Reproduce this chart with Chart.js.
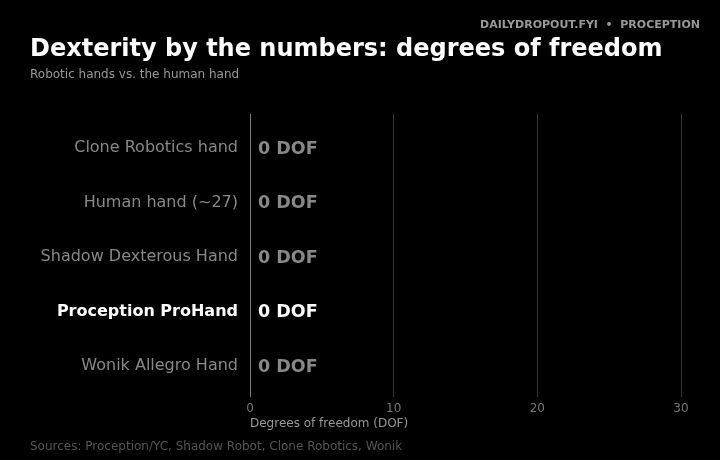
<!DOCTYPE html>
<html>
<head>
<meta charset="utf-8">
<script src="https://cdn.jsdelivr.net/npm/chart.js@4"></script>
<style>
  html, body { margin: 0; padding: 0; background: #000; }
  body { width: 720px; height: 460px; position: relative; overflow: hidden; font-family: "DejaVu Sans", sans-serif; }
  #wrap { position: absolute; left: 0; top: 0; width: 720px; height: 460px; }
  .txt { position: absolute; white-space: nowrap; }
  #brand { right: 20px; top: 18px; font-size: 11px; font-weight: bold; color: #999; }
  #title { left: 30px; top: 34px; font-size: 24px; font-weight: bold; color: #fff; }
  #subtitle { left: 30px; top: 67px; font-size: 12px; color: #999; }
  #sources { left: 30px; top: 439px; font-size: 12px; color: #555; }
</style>
</head>
<body>
<div id="wrap"><canvas id="chart" width="720" height="460"></canvas></div>
<div class="txt" id="brand">DAILYDROPOUT.FYI &nbsp;•&nbsp; PROCEPTION</div>
<div class="txt" id="title">Dexterity by the numbers: degrees of freedom</div>
<div class="txt" id="subtitle">Robotic hands vs. the human hand</div>
<div class="txt" id="sources">Sources: Proception/YC, Shadow Robot, Clone Robotics, Wonik</div>
<script>
const hands = ['Clone Robotics hand', 'Human hand (~27)', 'Shadow Dexterous Hand', 'Proception ProHand', 'Wonik Allegro Hand'];
const dof = [0, 0, 0, 0, 0];
const highlight = 'Proception ProHand';
const xTicks = [0, 10, 20, 30];

const isHi = i => hands[i] === highlight;
const gridColor = v => v === 0 ? '#777' : '#333';

// "N DOF" labels at the end of each bar
const valueLabels = {
  id: 'valueLabels',
  afterDatasetsDraw(chart) {
    const ctx = chart.ctx;
    const meta = chart.getDatasetMeta(0);
    ctx.save();
    ctx.font = 'bold 17.5px "DejaVu Sans"';
    ctx.textBaseline = 'middle';
    ctx.textAlign = 'left';
    meta.data.forEach((bar, i) => {
      ctx.fillStyle = isHi(i) ? '#fff' : '#888';
      ctx.fillText(dof[i] + ' DOF', bar.x + 8, bar.y + 1);
    });
    ctx.restore();
  }
};

// grid lines run a little above the first row
const gridTop = {
  id: 'gridTop',
  beforeDatasetsDraw(chart) {
    const ctx = chart.ctx;
    const x = chart.scales.x;
    const top = chart.chartArea.top;
    ctx.save();
    ctx.lineWidth = 1;
    xTicks.forEach(v => {
      const px = Math.round(x.getPixelForValue(v) - 0.5) + 0.5;
      ctx.strokeStyle = gridColor(v);
      ctx.beginPath();
      ctx.moveTo(px, top - 7);
      ctx.lineTo(px, top);
      ctx.stroke();
    });
    ctx.restore();
  }
};

const chart = new Chart(document.getElementById('chart'), {
  type: 'bar',
  data: {
    labels: hands,
    datasets: [{
      data: dof,
      backgroundColor: hands.map((h, i) => isHi(i) ? '#fff' : '#666'),
      borderWidth: 0,
      barPercentage: 0.7,
      categoryPercentage: 1
    }]
  },
  options: {
    indexAxis: 'y',
    responsive: false,
    animation: false,
    layout: { padding: { top: 121, right: 39, bottom: 29, left: 0 } },
    plugins: { legend: { display: false }, tooltip: { enabled: false } },
    scales: {
      x: {
        min: 0,
        max: 30,
        afterBuildTicks: s => { s.ticks = xTicks.map(v => ({ value: v })); },
        border: { display: false },
        grid: {
          color: c => c.tick ? gridColor(c.tick.value) : '#333',
          lineWidth: 1,
          tickLength: 4
        },
        ticks: { color: '#777', font: { family: 'DejaVu Sans', size: 12 }, padding: 4 },
        title: {
          display: true,
          text: 'Degrees of freedom (DOF)',
          align: 'start',
          color: '#999',
          font: { family: 'DejaVu Sans', size: 12 },
          padding: { top: -3, bottom: 0 }
        }
      },
      y: {
        afterFit: s => { s.width = 250; },
        border: { display: false },
        grid: { display: false },
        ticks: {
          padding: 4,
          color: c => isHi(c.index) ? '#fff' : '#888',
          font: c => ({ family: 'DejaVu Sans', size: 16, weight: isHi(c.index) ? 'bold' : 'normal' })
        }
      }
    }
  },
  plugins: [valueLabels, gridTop]
});
</script>
</body>
</html>
